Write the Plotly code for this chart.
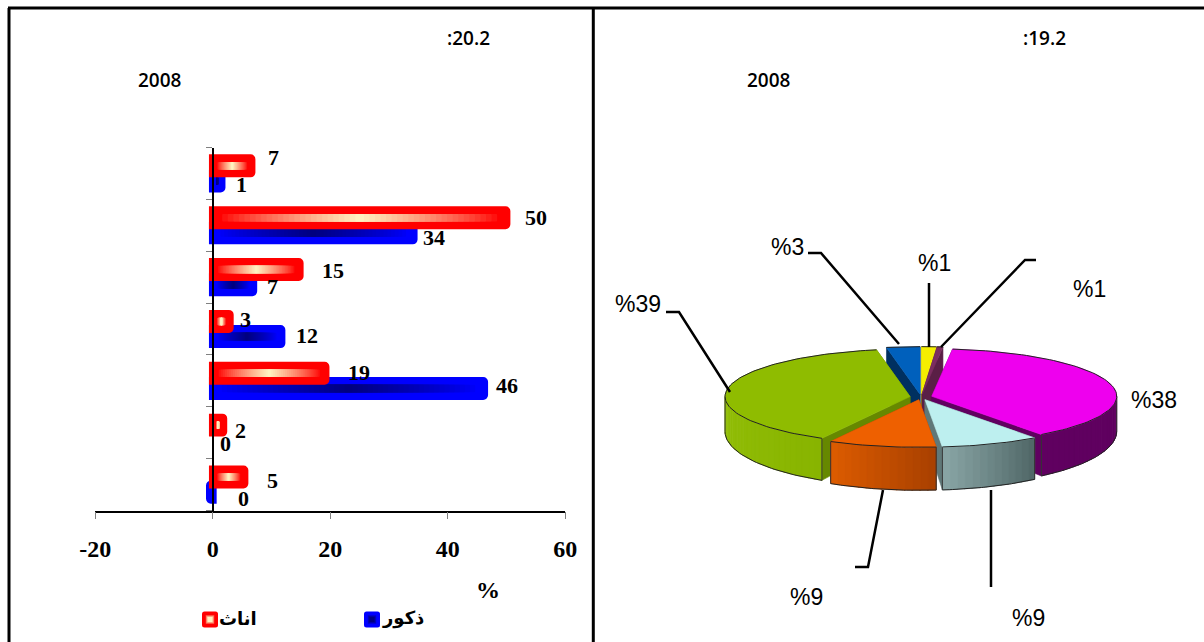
import math
import plotly.graph_objects as go

W, H = 1204, 642

# ---------- data ----------
categories = [0, 1, 2, 3, 4, 5, 6]
female_values = [5.4, 1.8, 19.2, 2.9, 14.8, 50, 6.6]
male_values = [-0.5, 0, 46.2, 11.7, 6.9, 34.2, 1.5]
female_labels = ["5", "2", "19", "3", "15", "50", "7"]
male_labels = ["0", "0", "46", "12", "7", "34", "1"]
x_ticks = [-20, 0, 20, 40, 60]
x_tick_labels = ["-20", "0", "20", "40", "60"]
female_name = "اناث"
male_name = "ذكور"

pie_values = [1.3, 0.5, 38.1, 8.6, 9.4, 39.2, 2.9]
pie_labels = ["%1", "%1", "%38", "%9", "%9", "%39", "%3"]

# ---------- styles ----------
RED, CREAM = "#ff0000", "#fff2c0"
BLUE, NAVY = "#0000ff", "#000080"
SERIF = "Liberation Serif"
SANS = "Liberation Sans"
HEAD = "Open Sans"
UNIT_PX = 52.0
BAR_W = 15.3 / UNIT_PX
FILL_W = 7.6 / UNIT_PX
STEP = 7.6 / UNIT_PX
INSET = 3.85 / 5.875
LEVELS = 26


def mix(c1, c2, t):
    a = [int(c1[i:i + 2], 16) for i in (1, 3, 5)]
    b = [int(c2[i:i + 2], 16) for i in (1, 3, 5)]
    return "rgb(%d,%d,%d)" % tuple(round(a[i] + (b[i] - a[i]) * t) for i in range(3))


fig = go.Figure()


def add_series(values, name, color, glow, center):
    fig.add_trace(go.Bar(
        y=categories, x=[v if v else None for v in values], orientation="h", name=name,
        showlegend=False, width=BAR_W, offset=center - BAR_W / 2,
        marker=dict(color=color, line=dict(color=color, width=7.7)),
        cliponaxis=False, hoverinfo="skip",
    ))
    # soft glow in the middle of the bar: nested bars derived from the values
    for k in range(LEVELS):
        t = k / (LEVELS - 1)
        base, length = [], []
        for v in values:
            span = max(abs(v) - 2 * INSET, 0) * (1 - t * 0.97)
            base.append(v / 2 - span / 2)
            length.append(span)
        fig.add_trace(go.Bar(
            y=categories, x=length, base=base, orientation="h", showlegend=False,
            width=FILL_W, offset=center - FILL_W / 2,
            marker=dict(color=mix(color, glow, t ** 0.8), line=dict(width=0)),
            hoverinfo="skip",
        ))


add_series(male_values, male_name, BLUE, NAVY, -STEP)
add_series(female_values, female_name, RED, CREAM, STEP)

# ---------- pie geometry (polygons derived from pie_values) ----------
CX, CY, RX, RY, EXPLODE = 921.0, 397.0, 185.0, 47.5, 0.06
top_colors = ["#f5ee00", "#7b2d60", "#ee00ee", "#bdefef", "#ee6000", "#8fbc00", "#0060bc"]
cut_colors = ["#a09a00", "#5a1f46", "#600060", "#607878", "#a84000", "#668800", "#003060"]
side_left = ["#a09a00", "#5a1f46", "#600060", "#8aa6a6", "#dd5c00", "#93bf08", "#003060"]
side_right = ["#a09a00", "#5a1f46", "#600060", "#4f6666", "#a84000", "#88b400", "#003060"]

total = sum(pie_values)
edges = [0.0]
for v in pie_values:
    edges.append(edges[-1] + v / total * 2 * math.pi)


def depth(th):
    return 35.0 + 8.0 * max(0.0, -math.cos(th))


def poly(xs, ys, color, line=None):
    fig.add_trace(go.Scatter(
        x=xs, y=ys, xaxis="x2", yaxis="y2", mode="lines", fill="toself", fillcolor=color,
        line=dict(color=line or color, width=0.6), showlegend=False, hoverinfo="skip",
    ))


def stroke(xs, ys, color="#222222", width=1.0):
    fig.add_trace(go.Scatter(
        x=xs, y=ys, xaxis="x2", yaxis="y2", mode="lines", line=dict(color=color, width=width),
        showlegend=False, hoverinfo="skip"))


def pt(th, ox, oy):
    return CX + ox + RX * math.sin(th), CY + oy + RY * -math.cos(th)


order = sorted(range(len(pie_values)), key=lambda i: -math.cos((edges[i] + edges[i + 1]) / 2))
for i in order:
    a0, a1 = edges[i], edges[i + 1]
    mid = (a0 + a1) / 2
    ox, oy = EXPLODE * RX * math.sin(mid), -EXPLODE * RY * math.cos(mid)
    tip = (CX + ox, CY + oy)
    tip_drop = 36.0
    # radial cut faces
    for a in (a0, a1):
        ex, ey = pt(a, ox, oy)
        poly([tip[0], ex, ex, tip[0], tip[0]],
             [tip[1], ey, ey + depth(a), tip[1] + tip_drop, tip[1]], cut_colors[i])
    # outer wall, front half only
    lo, hi = max(a0, math.pi / 2), min(a1, 3 * math.pi / 2)
    if hi > lo:
        n = max(2, int((hi - lo) / 0.04))
        for k in range(n):
            t0, t1 = lo + (hi - lo) * k / n, lo + (hi - lo) * (k + 1.15) / n
            t1 = min(t1, hi)
            p0, p1 = pt(t0, ox, oy), pt(t1, ox, oy)
            poly([p0[0], p1[0], p1[0], p0[0], p0[0]],
                 [p0[1], p1[1], p1[1] + depth(t1), p0[1] + depth(t0), p0[1]],
                 mix(side_right[i], side_left[i], (k + 0.5) / n))
        m = 40
        th = [lo + (hi - lo) * k / m for k in range(m + 1)]
        stroke([pt(a, ox, oy)[0] for a in th], [pt(a, ox, oy)[1] + depth(a) for a in th])
        for a in (lo, hi):
            px, py = pt(a, ox, oy)
            stroke([px, px], [py, py + depth(a)], "#333333", 1.0)
    # top face
    m = max(3, int((a1 - a0) / 0.03))
    th = [a0 + (a1 - a0) * k / m for k in range(m + 1)]
    xs = [tip[0]] + [pt(a, ox, oy)[0] for a in th] + [tip[0]]
    ys = [tip[1]] + [pt(a, ox, oy)[1] for a in th] + [tip[1]]
    poly(xs, ys, top_colors[i])
    stroke(xs[1:-1], ys[1:-1], "#222222", 1.0)

# ---------- annotations ----------
annotations = []


def text(x, y, s, size, family, weight="normal", color="#000000"):
    annotations.append(dict(
        x=x / W, y=1 - y / H, xref="paper", yref="paper", text=s, showarrow=False,
        font=dict(size=size, family=family, color=color, weight=weight),
        xanchor="center", yanchor="middle"))


female_shift = [(28, 4), (17, 2), (33, 8), (16, 10), (33, 7), (29, 8), (22, 16)]
male_shift = [(34, -14), (13, -11), (23, -5), (25, -6), (19, -9), (20, -12), (20, -11)]
for vals, labs, shifts in ((female_values, female_labels, female_shift),
                           (male_values, male_labels, male_shift)):
    for c, v, s, (dx, dy) in zip(categories, vals, labs, shifts):
        annotations.append(dict(
            x=v, y=c, xref="x", yref="y", text="<b>%s</b>" % s, showarrow=False,
            xshift=dx, yshift=dy, font=dict(size=22, family=SERIF, color="#000000"),
            xanchor="center", yanchor="middle"))

text(488, 590, "%", 24, SERIF, "bold")
text(468, 38, ":20.2", 19, HEAD, 600)
text(160, 80, "2008", 19, HEAD, 600)
text(1044, 38, ":19.2", 19, HEAD, 600)
text(769, 80, "2008", 19, HEAD, 600)
text(238, 618, female_name, 18, "DejaVu Sans", "bold")
text(403, 618, male_name, 18, "DejaVu Sans", "bold")

pie_label_pos = [(934, 263), (1089, 289), (1154, 400), (1028, 618), (806, 597), (638, 304), (787, 247)]
for s, (px, py) in zip(pie_labels, pie_label_pos):
    text(px, py, s, 23, SANS)

# ---------- frame, leader lines, legend keys ----------
shapes = []
for x0, y0, x1, y1 in ((8, 8, 1204, 8), (9, 8, 9, 642), (593.3, 8, 593.3, 642)):
    shapes.append(dict(type="line", xref="paper", yref="paper", x0=x0 / W, x1=x1 / W,
                       y0=1 - y0 / H, y1=1 - y1 / H, line=dict(color="#000000", width=3)))
leaders = [
    [(808, 253), (821, 253), (899, 344)],
    [(929, 283), (929, 347)],
    [(1036, 260), (1025, 260), (941, 347)],
    [(666, 312), (679, 312), (730, 392)],
    [(855, 567), (868, 567), (883, 490)],
    [(991, 587), (991, 490)],
]
for pts in leaders:
    path = "M" + " L".join("%d,%d" % p for p in pts)
    shapes.append(dict(type="path", xref="x2", yref="y2", path=path,
                       line=dict(color="#000000", width=2.5)))


def key_rect(cx, cy, half, radius, color):
    l, r = (cx - half) / W, (cx + half) / W
    t, b = 1 - (cy - half) / H, 1 - (cy + half) / H
    rx, ry = radius / W, radius / H
    path = (f"M{l + rx},{t} L{r - rx},{t} Q{r},{t} {r},{t - ry} L{r},{b + ry} Q{r},{b} {r - rx},{b} "
            f"L{l + rx},{b} Q{l},{b} {l},{b + ry} L{l},{t - ry} Q{l},{t} {l + rx},{t} Z")
    shapes.append(dict(type="path", xref="paper", yref="paper", path=path,
                       fillcolor=color, line=dict(width=0)))


for cx, base_color, glow in ((210, RED, CREAM), (372, BLUE, NAVY)):
    key_rect(cx, 619.5, 8, 2.5, base_color)
    for half, t in ((4.2, 0.45), (3.3, 0.75), (2.4, 1.0)):
        key_rect(cx, 619.5, half, 0.1, mix(base_color, glow, t))

fig.update_layout(
    width=W, height=H, margin=dict(l=0, r=0, t=0, b=0, autoexpand=False),
    paper_bgcolor="#ffffff", plot_bgcolor="rgba(0,0,0,0)",
    barmode="overlay", barcornerradius=1, showlegend=False,
    xaxis=dict(domain=[95.3 / W, 565.3 / W], range=[-20, 60], tickmode="array", tickvals=x_ticks,
               ticktext=x_tick_labels, ticks="outside", ticklen=7, tickwidth=1, tickcolor="#808080",
               showline=True, linecolor="#000000", linewidth=1.5, showgrid=False, zeroline=False,
               tickfont=dict(size=24, family=SERIF, color="#000000", weight="bold"),
               ticklabelstandoff=9),
    yaxis=dict(domain=[1 - 510.5 / H, 1 - 147.5 / H], range=[-0.5, 6.5], anchor="free",
               position=212.7 / W, tickmode="array", tickvals=[c - 0.5 for c in categories] + [6.5],
               ticktext=[""] * 8, ticks="outside", ticklen=6, tickwidth=1, tickcolor="#808080",
               showline=True, linecolor="#000000", linewidth=1.5, showgrid=False, zeroline=False),
    xaxis2=dict(domain=[0.5, 1], range=[602, 1204], visible=False, anchor="y2"),
    yaxis2=dict(domain=[0, 1], range=[642, 0], visible=False, anchor="x2"),
    annotations=annotations, shapes=shapes,
)

fig.write_html("out.html", config=dict(displayModeBar=False),
               post_script="document.body.style.margin='0';document.body.style.overflow='hidden';")
